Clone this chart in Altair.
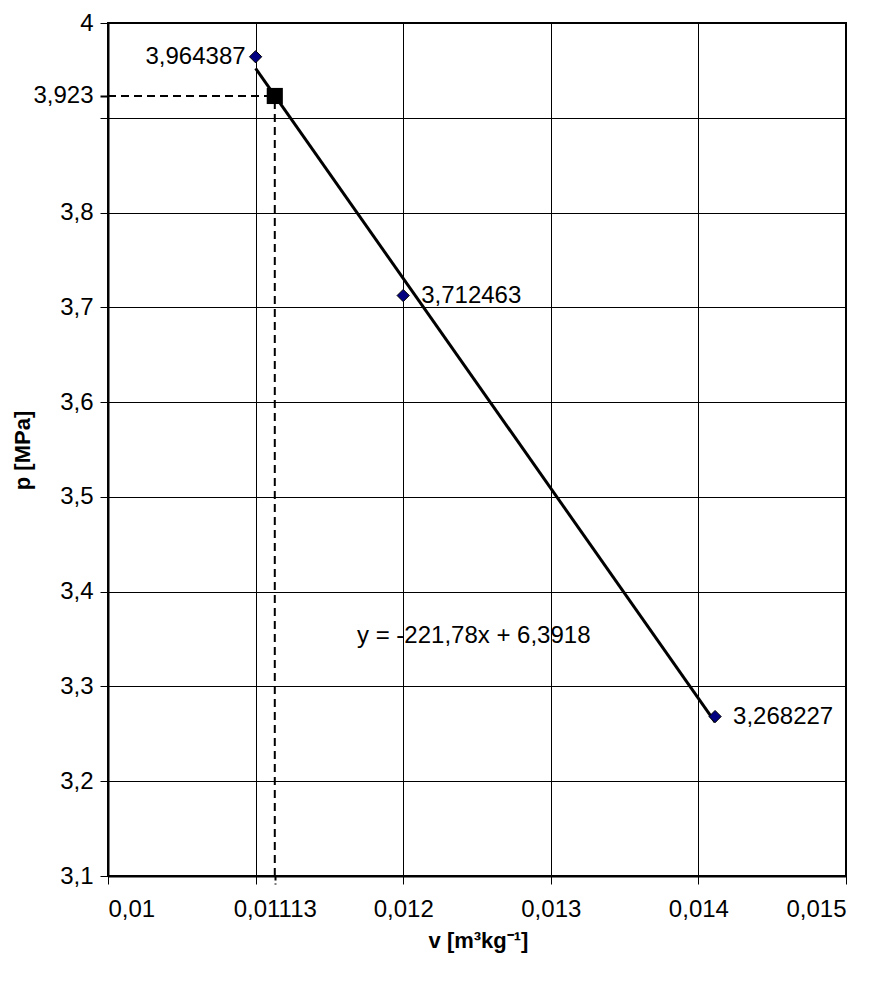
import altair as alt
import pandas as pd

# data
v_points = [0.011, 0.012, 0.014113]
p_points = [3.964387, 3.712463, 3.268227]
label_side = ["left", "right", "right"]

v_mark = 0.01113
p_mark = 3.923

x_ticks = [0.01, 0.011, 0.01113, 0.012, 0.013, 0.014, 0.015]
y_ticks = [3.1, 3.2, 3.3, 3.4, 3.5, 3.6, 3.7, 3.8, 3.9, 3.923, 4.0]

eq_text = ["y = -221,78x + 6,3918"]
eq_v = [0.011687]
eq_p = [3.353]

FONT = "Liberation Sans"
FS = 24

pts = pd.DataFrame({"v": v_points, "p": p_points, "side": label_side})
mark_df = pd.DataFrame({"v": [v_mark], "p": [p_mark]})
hdash = pd.DataFrame({"v": [x_ticks[0]], "v2": [v_mark], "p": [p_mark]})
vdash = pd.DataFrame({"v": [v_mark], "p": [y_ticks[0]], "p2": [p_mark]})
eq_df = pd.DataFrame({"v": eq_v, "p": eq_p, "t": eq_text})

xscale = alt.Scale(domain=[0.01, 0.015], nice=False, zero=False)
yscale = alt.Scale(domain=[3.1, 4.0], nice=False, zero=False)

xaxis = alt.Axis(
    values=x_ticks,
    labelExpr="datum.value == 0.011 ? '' : replace(toString(datum.value), '.', ',')",
    gridOpacity={"condition": {"test": "datum.value == 0.01113", "value": 0}, "value": 1},
    tickDash={"condition": {"test": "datum.value == 0.01113", "value": [4, 3]}, "value": []},
    tickWidth={"condition": {"test": "datum.value == 0.01113", "value": 2}, "value": 1},
    title="v [m³kg⁻¹]",
    titleX=370, titleY=64, titleBaseline="middle", titleAlign="center",
    labelPadding=13,
)
yaxis = alt.Axis(
    values=y_ticks,
    labelExpr="datum.value == 3.9 ? '' : replace(toString(datum.value), '.', ',')",
    gridOpacity={"condition": {"test": "datum.value == 3.923", "value": 0}, "value": 1},
    tickWidth={"condition": {"test": "datum.value == 3.923", "value": 2}, "value": 1},
    title="p [MPa]",
    titleX=-86, titleY=427, titleBaseline="middle", titleAlign="center", titleAngle=-90,
    labelPadding=7,
)

base_pts = alt.Chart(pts)

trend = base_pts.transform_regression("v", "p").mark_line(color="black", strokeWidth=3).encode(
    x=alt.X("v:Q", scale=xscale, axis=xaxis),
    y=alt.Y("p:Q", scale=yscale, axis=yaxis),
)

diamonds = base_pts.mark_point(shape="diamond", filled=True, fill="#000080", stroke="black",
                               strokeWidth=1, size=150, opacity=1).encode(
    x=alt.X("v:Q", scale=xscale), y=alt.Y("p:Q", scale=yscale)
)

lbl_left = base_pts.transform_filter("datum.side == 'left'").transform_calculate(
    t="replace(toString(datum.p), '.', ',')"
).mark_text(align="right", dx=-10, dy=0, font=FONT, fontSize=FS, color="black").encode(
    x=alt.X("v:Q", scale=xscale), y=alt.Y("p:Q", scale=yscale), text="t:N"
)
lbl_right = base_pts.transform_filter("datum.side == 'right'").transform_calculate(
    t="replace(toString(datum.p), '.', ',')"
).mark_text(align="left", dx=18, dy=0, font=FONT, fontSize=FS, color="black").encode(
    x=alt.X("v:Q", scale=xscale), y=alt.Y("p:Q", scale=yscale), text="t:N"
)

hrule = alt.Chart(hdash).mark_rule(color="black", strokeWidth=2, strokeDash=[8, 5], clip=False).encode(
    x=alt.X("v:Q", scale=xscale), x2="v2:Q", y=alt.Y("p:Q", scale=yscale)
)
vrule = alt.Chart(vdash).mark_rule(color="black", strokeWidth=2, strokeDash=[8, 5], clip=False).encode(
    x=alt.X("v:Q", scale=xscale), y=alt.Y("p:Q", scale=yscale), y2="p2:Q"
)

square = alt.Chart(mark_df).mark_point(shape="square", filled=True, color="black", size=260, opacity=1).encode(
    x=alt.X("v:Q", scale=xscale), y=alt.Y("p:Q", scale=yscale)
)

eq = alt.Chart(eq_df).mark_text(align="left", baseline="middle", font=FONT, fontSize=FS, color="black").encode(
    x=alt.X("v:Q", scale=xscale), y=alt.Y("p:Q", scale=yscale), text="t:N"
)

chart = alt.layer(hrule, vrule, trend, diamonds, square, lbl_left, lbl_right, eq).properties(
    width=738, height=853,
    autosize=alt.AutoSizeParams(type="none"),
    padding={"left": 100, "top": 15, "right": 30, "bottom": 100},
    background="white",
).configure_view(stroke="black", strokeWidth=2).configure_axis(
    labelFont=FONT, labelFontSize=FS, labelColor="black",
    titleFont=FONT, titleFontSize=22, titleFontWeight="bold", titleColor="black",
    tickColor="black", tickSize=8,
    domainColor="black", domainWidth=2,
    gridColor="black", gridWidth=1,
)

chart.save("out.html", embed_options={"renderer": "svg", "actions": False})
